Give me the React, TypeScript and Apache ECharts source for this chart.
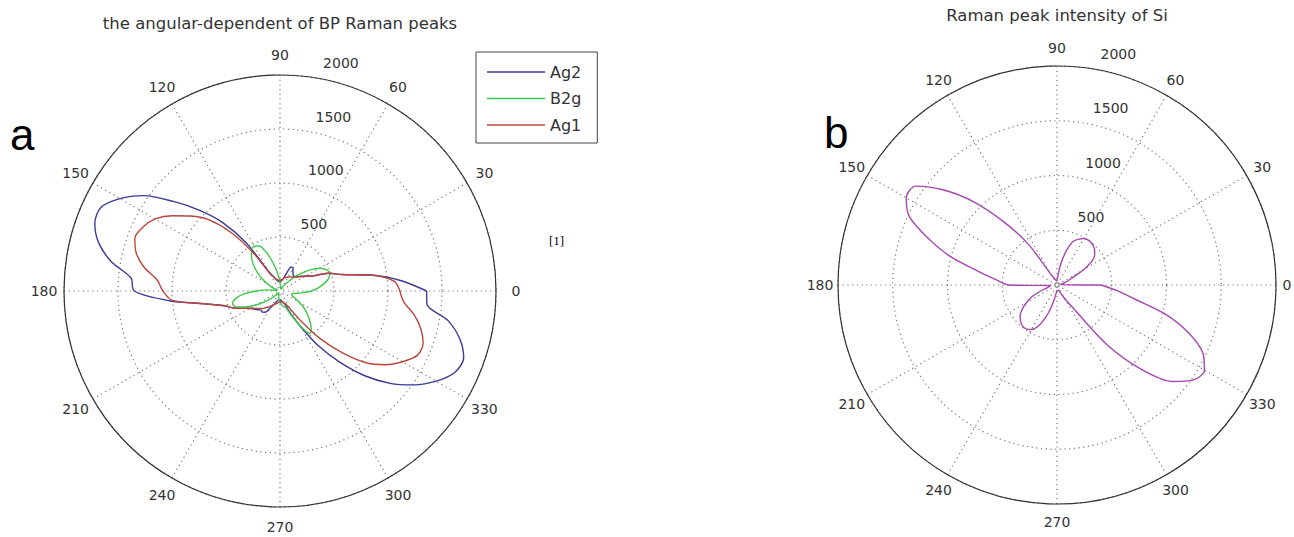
import React, { useEffect, useRef } from "react";
import * as echarts from "echarts";

// ---- data ----
const angles = [0, 5, 10, 15, 20, 25, 30, 35, 40, 45, 50, 55, 60, 65, 70, 75, 80, 85, 90, 95, 100, 105, 110, 115, 120, 125, 130, 135, 140, 145, 150, 155, 160, 165, 170, 175, 180, 185, 190, 195, 200, 205, 210, 215, 220, 225, 230, 235, 240, 245, 250, 255, 260, 265, 270, 275, 280, 285, 290, 295, 300, 305, 310, 315, 320, 325, 330, 335, 340, 345, 350, 355];

const ag2 = [1358, 1120, 850, 590, 480, 330, 280, 240, 205, 190, 190, 210, 240, 245, 170, 120, 100, 90, 85, 85, 90, 100, 120, 150, 200, 540, 830, 1060, 1290, 1540, 1712, 1830, 1825, 1740, 1590, 1385, 1350, 1030, 690, 530, 460, 380, 325, 290, 270, 250, 255, 240, 180, 140, 110, 95, 85, 80, 80, 85, 95, 110, 130, 220, 380, 620, 860, 1110, 1330, 1515, 1670, 1785, 1810, 1725, 1580, 1365];

const b2g = [290, 360, 420, 470, 490, 470, 420, 340, 250, 170, 100, 55, 30, 20, 20, 25, 30, 50, 80, 130, 200, 290, 390, 460, 480, 460, 410, 350, 280, 210, 140, 80, 40, 25, 30, 120, 220, 340, 420, 455, 430, 350, 260, 180, 110, 60, 30, 20, 20, 25, 35, 50, 60, 80, 100, 120, 140, 150, 170, 250, 370, 480, 450, 390, 330, 270, 200, 150, 120, 110, 130, 200];

const ag1 = [1110, 1060, 850, 590, 480, 330, 270, 230, 200, 180, 170, 160, 150, 140, 130, 120, 110, 105, 100, 100, 100, 110, 120, 150, 190, 430, 710, 935, 1080, 1215, 1335, 1400, 1430, 1380, 1280, 1140, 1085, 1000, 690, 530, 460, 380, 320, 280, 250, 230, 200, 180, 160, 140, 130, 120, 110, 105, 100, 100, 100, 110, 120, 140, 200, 340, 570, 800, 1030, 1190, 1310, 1405, 1410, 1350, 1260, 1150];

const si = [400, 30, 40, 60, 100, 150, 280, 400, 450, 480, 495, 500, 490, 460, 420, 320, 190, 80, 40, 40, 40, 50, 60, 80, 110, 450, 750, 1075, 1350, 1575, 1590, 1490, 1255, 1010, 735, 560, 440, 60, 60, 90, 160, 250, 320, 390, 440, 470, 490, 490, 470, 420, 330, 220, 120, 70, 50, 50, 50, 50, 55, 90, 150, 260, 715, 1090, 1370, 1515, 1555, 1470, 1280, 1020, 710, 540];

const angleTicks = [0, 30, 60, 90, 120, 150, 180, 210, 240, 270, 300, 330];
const radiusTicks = [500, 1000, 1500, 2000];
const radiusMax = 2000;

const seriesNames = ["Ag2", "B2g", "Ag1"];
const seriesColors = ["#3b3a95", "#3fc84b", "#b8473e"];
const siColor = "#a646b0";

const titleA = "the angular-dependent of BP Raman peaks";
const titleB = "Raman peak intensity of Si";

// ---- layout ----
const LEFT = { cx: 280, cy: 291, r: 216 };
const RIGHT = { cx: 1057, cy: 285, r: 219 };
const FONT = "DejaVu Sans";
const TEXT = "#333";

function toPolar(vals: number[]) {
  const pts = angles.map((a, i) => [vals[i], a]);
  pts.push([vals[0], 360]);
  return pts;
}

function angleLabels(p: { cx: number; cy: number; r: number }, off: number, maxX: number) {
  return angleTicks.map((a) => {
    const rad = (a * Math.PI) / 180;
    const x = Math.min(p.cx + (p.r + off) * Math.cos(rad), maxX);
    return {
      type: "text",
      x,
      y: p.cy - (p.r + off) * Math.sin(rad),
      silent: true,
      style: {
        text: String(a),
        font: `14px "${FONT}"`,
        fill: TEXT,
        textAlign: "center",
        textVerticalAlign: "middle",
      },
    };
  });
}

function radiusLabels(p: { cx: number; cy: number; r: number }) {
  const rad = (82 * Math.PI) / 180;
  return radiusTicks.map((v) => {
    const rr = (v / radiusMax) * p.r;
    return {
      type: "text",
      x: p.cx + rr * Math.cos(rad) + 13,
      y: p.cy - rr * Math.sin(rad) - 14,
      silent: true,
      style: {
        text: String(v),
        font: `14px "${FONT}"`,
        fill: TEXT,
        textAlign: "left",
        textVerticalAlign: "middle",
      },
    };
  });
}

function axes(idx: number) {
  return {
    angle: {
      polarIndex: idx,
      type: "value",
      min: 0,
      max: 360,
      interval: 30,
      startAngle: 0,
      clockwise: false,
      axisLine: { show: true, lineStyle: { color: "#333", width: 1.2 } },
      axisTick: { show: false },
      axisLabel: { show: false },
      splitLine: { show: true, lineStyle: { color: "#777", width: 1.2, type: [1.2, 3.5] } },
    },
    radius: {
      polarIndex: idx,
      type: "value",
      min: 0,
      max: radiusMax,
      interval: 500,
      axisLine: { show: false },
      axisTick: { show: false },
      axisLabel: { show: false },
      splitLine: { show: true, lineStyle: { color: "#777", width: 1.2, type: [1.2, 3.5] } },
    },
  };
}

export default function App() {
  const ref = useRef<HTMLDivElement>(null);
  useEffect(() => {
    if (!ref.current) return;
    const chart = echarts.init(ref.current, null, { renderer: "svg" });
    const a0 = axes(0);
    const a1 = axes(1);
    const leftSeries = [ag2, b2g, ag1].map((vals, i) => ({
      name: seriesNames[i],
      type: "line",
      coordinateSystem: "polar",
      polarIndex: 0,
      symbol: "none",
      smooth: 0.3,
      data: toPolar(vals),
      lineStyle: { color: seriesColors[i], width: 1.4 },
      itemStyle: { color: seriesColors[i] },
      z: 3,
    }));
    chart.setOption({
      animation: false,
      backgroundColor: "#ffffff",
      polar: [
        { center: [LEFT.cx, LEFT.cy], radius: LEFT.r },
        { center: [RIGHT.cx, RIGHT.cy], radius: RIGHT.r },
      ],
      angleAxis: [a0.angle, a1.angle],
      radiusAxis: [a0.radius, a1.radius],
      legend: {
        data: seriesNames,
        orient: "vertical",
        left: 476,
        top: 52,
        icon: "rect",
        itemWidth: 58,
        itemHeight: 1.5,
        itemGap: 10.5,
        padding: [12, 16, 10, 11],
        borderColor: "#444",
        borderWidth: 1,
        selectedMode: false,
        textStyle: { fontFamily: FONT, fontSize: 16, color: TEXT },
      },
      series: [
        ...leftSeries,
        {
          name: "Si",
          type: "line",
          coordinateSystem: "polar",
          polarIndex: 1,
          symbol: "none",
          smooth: 0.3,
          data: toPolar(si),
          lineStyle: { color: siColor, width: 1.4 },
          itemStyle: { color: siColor },
          z: 3,
        },
      ],
      graphic: [
        {
          type: "text",
          x: LEFT.cx,
          y: 23,
          silent: true,
          style: { text: titleA, font: `16.5px "${FONT}"`, fill: TEXT, textAlign: "center", textVerticalAlign: "middle" },
        },
        {
          type: "text",
          x: RIGHT.cx,
          y: 15,
          silent: true,
          style: { text: titleB, font: `16.5px "${FONT}"`, fill: TEXT, textAlign: "center", textVerticalAlign: "middle" },
        },
        ...angleLabels(LEFT, 20, 2000),
        ...angleLabels(RIGHT, 18, 1287),
        ...radiusLabels(LEFT),
        ...radiusLabels(RIGHT),
        {
          type: "text",
          x: 10,
          y: 134,
          silent: true,
          style: { text: "a", font: `44px "Liberation Sans"`, fill: "#000", textAlign: "left", textVerticalAlign: "middle" },
        },
        {
          type: "text",
          x: 824,
          y: 132,
          silent: true,
          style: { text: "b", font: `44px "Liberation Sans"`, fill: "#000", textAlign: "left", textVerticalAlign: "middle" },
        },
        {
          type: "text",
          x: 549,
          y: 240,
          silent: true,
          style: { text: "[1]", font: `13px "Liberation Serif"`, fill: "#000", textAlign: "left", textVerticalAlign: "middle" },
        },
      ],
    });
    return () => chart.dispose();
  }, []);
  return (
    <div
      ref={ref}
      style={{ position: "absolute", left: 0, top: 0, width: 1294, height: 537, background: "#fff" }}
    />
  );
}
